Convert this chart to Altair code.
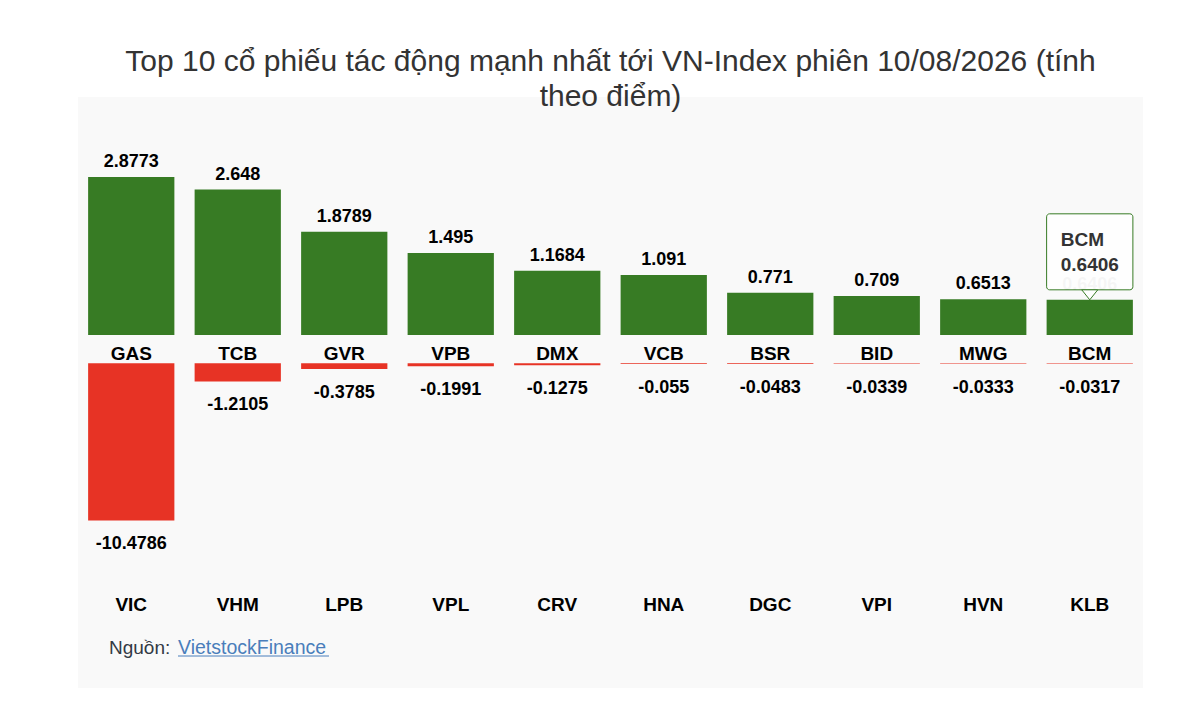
import altair as alt
import pandas as pd

# Top 10 positive and negative contributors (points)
pos_tickers = ["GAS", "TCB", "GVR", "VPB", "DMX", "VCB", "BSR", "BID", "MWG", "BCM"]
pos_values = [2.8773, 2.648, 1.8789, 1.495, 1.1684, 1.091, 0.771, 0.709, 0.6513, 0.6406]
neg_tickers = ["VIC", "VHM", "LPB", "VPL", "CRV", "HNA", "DGC", "VPI", "HVN", "KLB"]
neg_values = [-10.4786, -1.2105, -0.3785, -0.1991, -0.1275, -0.055, -0.0483, -0.0339, -0.0333, -0.0317]

hover_ticker = "BCM"

title_lines = [
    "Top 10 cổ phiếu tác động mạnh nhất tới VN-Index phiên 10/08/2026 (tính",
    "theo điểm)",
]
source_label = "Nguồn:"
source_name = "VietstockFinance"

GREEN = "#377b24"
RED = "#e73325"
FONT = "Liberation Sans"

df = pd.DataFrame({
    "slot": neg_tickers,
    "pos_ticker": pos_tickers,
    "pos_value": pos_values,
    "neg_value": neg_values,
})
df["pos_label"] = [f"{v:g}" for v in pos_values]
df["neg_label"] = [f"{v:g}" for v in neg_values]

# two independent value scales: gains on top, losses below
pos_scale = alt.Scale(domain=[-6.43, 4.335], nice=False, zero=False)
neg_scale = alt.Scale(domain=[-21.65, 17.75], nice=False, zero=False)

x_enc = alt.X(
    "slot:N",
    sort=neg_tickers,
    scale=alt.Scale(paddingInner=0.19, paddingOuter=0.095),
    axis=alt.Axis(
        title=None, domain=False, ticks=False, tickSize=0, grid=False,
        labelAngle=0, labelFontSize=19, labelFontWeight="bold", labelColor="#000000",
        labelFont=FONT, labelBaseline="alphabetic", labelPadding=0, offset=-78,
    ),
)

base = alt.Chart(df).encode(x=x_enc)

pos_bars = base.mark_bar(color=GREEN).encode(
    y=alt.Y("pos_value:Q", scale=pos_scale, axis=None),
    y2=alt.Y2Datum(0),
)
pos_text = base.mark_text(
    fontSize=18, fontWeight="bold", color="#000000", baseline="alphabetic", dy=-10
).encode(
    y=alt.Y("pos_value:Q", scale=pos_scale, axis=None),
    text="pos_label:N",
    opacity=alt.condition(alt.datum.pos_ticker == hover_ticker, alt.value(0.25), alt.value(1)),
)
pos_names = base.mark_text(
    fontSize=19, fontWeight="bold", color="#000000", baseline="alphabetic", dy=25
).encode(
    y=alt.YDatum(0, scale=pos_scale, axis=None),
    text="pos_ticker:N",
)

neg_bars = base.mark_bar(color=RED).encode(
    y=alt.Y("neg_value:Q", scale=neg_scale, axis=None),
    y2=alt.Y2Datum(0),
)
neg_text = base.mark_text(
    fontSize=18, fontWeight="bold", color="#000000", baseline="top", dy=15
).encode(
    y=alt.Y("neg_value:Q", scale=neg_scale, axis=None),
    text="neg_label:N",
)

# hover tooltip on the last gainer
hover = base.transform_filter(alt.datum.pos_ticker == hover_ticker)
tip_box = hover.mark_rect(
    fill="white", fillOpacity=0.85, stroke=GREEN, strokeWidth=1, cornerRadius=3,
    yOffset=-10, y2Offset=-86, x2Offset=3,
).encode(
    y=alt.Y("pos_value:Q", scale=pos_scale, axis=None),
    y2="pos_value:Q",
)
tip_arrow = hover.mark_point(
    shape="M-1,0L1,0L0,1.25Z", size=256, filled=True, fill="white",
    stroke=GREEN, strokeWidth=1, opacity=1, yOffset=-10,
).encode(
    y=alt.Y("pos_value:Q", scale=pos_scale, axis=None),
)
tip_name = hover.mark_text(
    fontSize=19, fontWeight="bold", color="#333333", align="left",
    baseline="alphabetic", dx=-29, dy=-54,
).encode(
    y=alt.Y("pos_value:Q", scale=pos_scale, axis=None),
    text="pos_ticker:N",
)
tip_value = hover.mark_text(
    fontSize=19, fontWeight="bold", color="#333333", align="left",
    baseline="alphabetic", dx=-29, dy=-29,
).encode(
    y=alt.Y("pos_value:Q", scale=pos_scale, axis=None),
    text="pos_label:N",
)

# source note
note = alt.Chart(pd.DataFrame({"label": [source_label], "name": [source_name]}))
note_label = note.mark_text(
    fontSize=19, color="#333a45", align="left", baseline="alphabetic"
).encode(x=alt.value(31), y=alt.value(557), text="label:N")
note_name = note.mark_text(
    fontSize=19.5, color="#4a7ebb", align="left", baseline="alphabetic"
).encode(x=alt.value(100), y=alt.value(557), text="name:N")
note_line = note.mark_rule(color="#4a7ebb", strokeWidth=1).encode(
    x=alt.value(100), x2=alt.value(251), y=alt.value(559)
)

chart = (
    alt.layer(
        pos_bars, neg_bars, pos_text, pos_names, neg_text,
        tip_box, tip_arrow, tip_name, tip_value,
        note_label, note_name, note_line,
    )
    .resolve_scale(y="independent")
    .properties(
        width=1065,
        height=591,
        padding={"left": 70, "top": 89, "right": 40, "bottom": 20},
        autosize=alt.AutoSizeParams(type="none"),
        title=alt.TitleParams(
            text=title_lines, fontSize=30, font=FONT, fontWeight="normal",
            color="#333333", lineHeight=35, offset=-15, anchor="middle", frame="group",
        ),
    )
    .configure(font=FONT)
    .configure_view(fill="#f9f9f9", strokeWidth=0)
)

chart.save("out.html", embed_options={"renderer": "svg", "actions": False})
